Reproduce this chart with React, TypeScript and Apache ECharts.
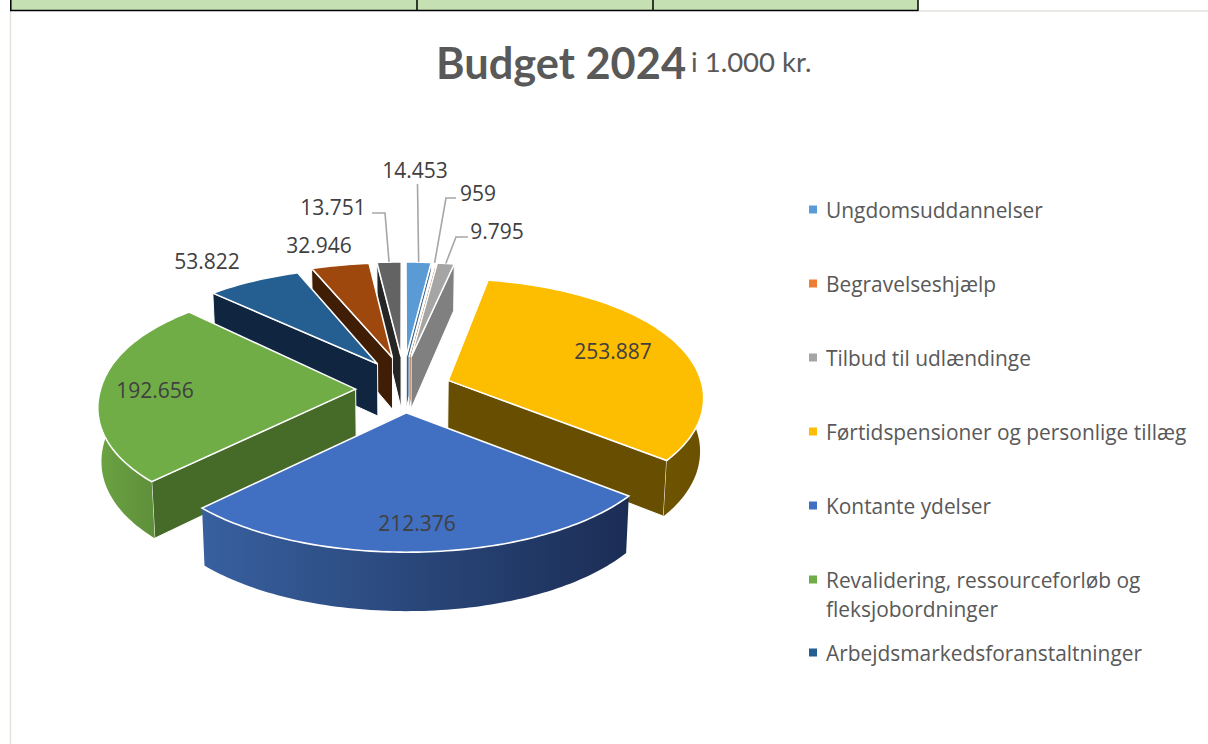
import React, { useEffect, useRef } from "react";
import * as echarts from "echarts";

const sliceNames = ["Ungdomsuddannelser", "Begravelseshjælp", "Tilbud til udlændinge", "Førtidspensioner og personlige tillæg", "Kontante ydelser", "Revalidering, ressourceforløb og fleksjobordninger", "Arbejdsmarkedsforanstaltninger", "Øvrige 1", "Øvrige 2"];
const sliceValues = [14453, 959, 9795, 253887, 212376, 192656, 53822, 32946, 13751];
const valueLabels = ["14.453", "959", "9.795", "253.887", "212.376", "192.656", "53.822", "32.946", "13.751"];
const topColors = ["#5B9BD5", "#ED7D31", "#A5A5A5", "#FDBD00", "#416FC2", "#70AD47", "#255E91", "#9E480E", "#636363"];
const faceColors = ["#38648C", "#8A4A1D", "#808080", "#674E00", "#1B2D55", "#466A28", "#0F2540", "#401E06", "#252525"];
const sideLeft = ["#4A80B0", "#C26428", "#8A8A8A", "#6E5400", "#38609F", "#6BA343", "#1C486F", "#7A370A", "#4A4A4A"];
const sideRight = ["#4A80B0", "#C26428", "#8A8A8A", "#6A5000", "#1B2D55", "#5E8F3A", "#1C486F", "#7A370A", "#4A4A4A"];
const drawOrder = [8, 0, 1, 2, 7, 6, 5, 3, 4];

const legendLines = [["Ungdomsuddannelser"], ["Begravelseshjælp"], ["Tilbud til udlændinge"], ["Førtidspensioner og personlige tillæg"], ["Kontante ydelser"], ["Revalidering, ressourceforløb og", "fleksjobordninger"], ["Arbejdsmarkedsforanstaltninger"]];
const legendY = [209.5, 283.5, 357.5, 431.5, 505.5, 579.5, 652.5];

const FONT = '"Open Sans", "Noto Sans", sans-serif';
const CX = 403.6, CY = 389, RX = 255, THICK = 53;
const total = sliceValues.reduce((a, b) => a + b, 0);

function project(V: number, U: number, bottom: boolean) {
  const back = U < 0;
  const left = V < 0;
  const persp = back ? (left ? 0.115 : 0.13) : left ? 0.125 : 0.12;
  const sx = 1 / (1 - persp * U);
  const y = back ? CY + (128 * U) / (1 - 0.22 * U) : CY + (125 * U) / (1 - 0.076 * U);
  const h = THICK + 5 * U;
  return [CX + RX * V * sx * (bottom ? 0.988 : 1), bottom ? y + h : y];
}

function sliceGeometry(i: number) {
  const before = sliceValues.slice(0, i).reduce((a, b) => a + b, 0);
  const a1 = (before / total) * Math.PI * 2;
  const a2 = ((before + sliceValues[i]) / total) * Math.PI * 2;
  const mid = (a1 + a2) / 2;
  const um = -Math.cos(mid);
  const ov = 0.188 * Math.sin(mid);
  const ou = (um < 0 ? 0.188 + 0.082 * um * um : 0.188) * um;
  return { a1, a2, mid, ov, ou };
}

function arcPoints(g: any, from: number, to: number, bottom: boolean) {
  const pts: number[][] = [];
  const n = Math.max(2, Math.ceil(Math.abs(to - from) / 0.02));
  for (let k = 0; k <= n; k++) {
    const t = from + ((to - from) * k) / n;
    pts.push(project(g.ov + Math.sin(t), g.ou - Math.cos(t), bottom));
  }
  return pts;
}

const labelPlaces: Record<number, { x: number; y: number; line?: number[][] }> = {
  0: { x: 415, y: 169.5, line: [[417.5, 184]] },
  1: { x: 478, y: 192.5, line: [[456, 198], [446, 198]] },
  2: { x: 497, y: 230.5, line: [[468, 237], [456, 237]] },
  3: { x: 613, y: 350.5 },
  4: { x: 417, y: 522.5 },
  5: { x: 155, y: 389.5 },
  6: { x: 207, y: 260.5 },
  7: { x: 319, y: 244.5 },
  8: { x: 333, y: 206.5, line: [[372, 213], [385, 213]] },
};

function renderSlice(params: any, api: any) {
  const i = params.dataIndex;
  const g = sliceGeometry(i);
  const base = drawOrder.indexOf(i) * 5 + 1;
  const children: any[] = [];
  const apexTop = project(g.ov, g.ou, false);
  const apexBot = project(g.ov, g.ou, true);
  const edgeStyle = { stroke: "#ffffff", lineWidth: 1, lineJoin: "round" };
  const radial = (t: number) => {
    const top = project(g.ov + Math.sin(t), g.ou - Math.cos(t), false);
    const bot = project(g.ov + Math.sin(t), g.ou - Math.cos(t), true);
    children.push({
      type: "polygon", z2: base,
      shape: { points: [apexTop, top, bot, apexBot] },
      style: { fill: faceColors[i], ...edgeStyle },
    });
  };
  if (g.a2 < Math.PI) radial(g.a2);
  if (g.a1 > Math.PI) radial(g.a1);
  const s1 = Math.max(g.a1, Math.PI * 0.47);
  const s2 = Math.min(g.a2, Math.PI * 1.53);
  if (s2 > s1) {
    const topArc = arcPoints(g, s1, s2, false);
    const botArc = arcPoints(g, s1, s2, true).reverse();
    children.push({
      type: "polygon", z2: base + 1,
      shape: { points: [...topArc, ...botArc] },
      style: {
        fill: new echarts.graphic.LinearGradient(0, 0, 1, 0, [
          { offset: 0, color: sideLeft[i] },
          { offset: 1, color: sideRight[i] },
        ]),
        stroke: "none",
      },
    });
  }
  children.push({
    type: "polygon", z2: base + 2,
    shape: { points: [apexTop, ...arcPoints(g, g.a1, g.a2, false)] },
    style: { fill: topColors[i], stroke: "#ffffff", lineWidth: 1.6, lineJoin: "miter" },
  });
  const place = labelPlaces[i];
  if (place.line) {
    const edge = project(g.ov + Math.sin(g.mid), g.ou - Math.cos(g.mid), false);
    children.push({
      type: "polyline", z2: 90,
      shape: { points: [...place.line, edge] },
      style: { stroke: "#A6A6A6", lineWidth: 1.6, fill: "none" },
    });
  }
  children.push({
    type: "text", z2: 100,
    style: {
      text: valueLabels[i], x: place.x, y: place.y,
      fontFamily: FONT, fontSize: 21, fill: "#404040",
      align: "center", verticalAlign: "middle",
    },
  });
  return { type: "group", children };
}

export default function App() {
  const ref = useRef<HTMLDivElement>(null);
  useEffect(() => {
    const chart = echarts.init(ref.current!, undefined, { renderer: "svg" });
    const legendGraphics: any[] = [];
    legendLines.forEach((lines, i) => {
      legendGraphics.push({
        type: "rect", left: 809, top: legendY[i] - 4, z: 5,
        shape: { width: 8, height: 8 }, style: { fill: topColors[i] },
      });
      lines.forEach((t, j) => {
        legendGraphics.push({
          type: "text", x: 826, y: legendY[i] + j * 29, z: 5,
          style: { text: t, fontFamily: FONT, fontSize: 20.9, fill: "#595959", verticalAlign: "middle", align: "left" },
        });
      });
    });
    const tableLine = (x1: number, y1: number, x2: number, y2: number, stroke: string, lineWidth: number) => ({
      type: "line", z: 4, shape: { x1, y1, x2, y2 }, style: { stroke, lineWidth },
    });
    chart.setOption({
      animation: false,
      backgroundColor: "#ffffff",
      title: {
        left: 431, top: 35,
        text: "{a|Budget 2024} {b|i 1.000 kr.}",
        textStyle: {
          fontWeight: "normal",
          rich: {
            a: { fontFamily: "Lato", fontWeight: "bold", fontSize: 43.4, color: "#595959" },
            b: { fontFamily: "Lato", fontWeight: "normal", fontSize: 27.5, color: "#595959" },
          },
        },
      },
      graphic: [
        { type: "rect", z: 3, shape: { x: 11, y: 0, width: 907, height: 10 }, style: { fill: "#C5E0B3" } },
        tableLine(918, 11, 1208, 11, "#E2E2DC", 1.5),
        tableLine(10.5, 11, 10.5, 744, "#E4E4DC", 1.5),
        tableLine(10, 10.5, 918, 10.5, "#000000", 1.5),
        tableLine(10.8, 0, 10.8, 11, "#000000", 1.5),
        tableLine(417, 0, 417, 11, "#000000", 1.5),
        tableLine(653, 0, 653, 11, "#000000", 1.5),
        tableLine(918, 0, 918, 11, "#000000", 1.5),
        ...legendGraphics,
      ],
      series: [
        {
          type: "custom",
          coordinateSystem: "none",
          clip: false,
          renderItem: renderSlice,
          data: sliceValues.map((value, i) => ({ value, name: sliceNames[i] })),
        },
      ],
    });
    return () => chart.dispose();
  }, []);
  return <div ref={ref} style={{ position: "absolute", left: 0, top: 0, width: 1208, height: 744 }} />;
}
